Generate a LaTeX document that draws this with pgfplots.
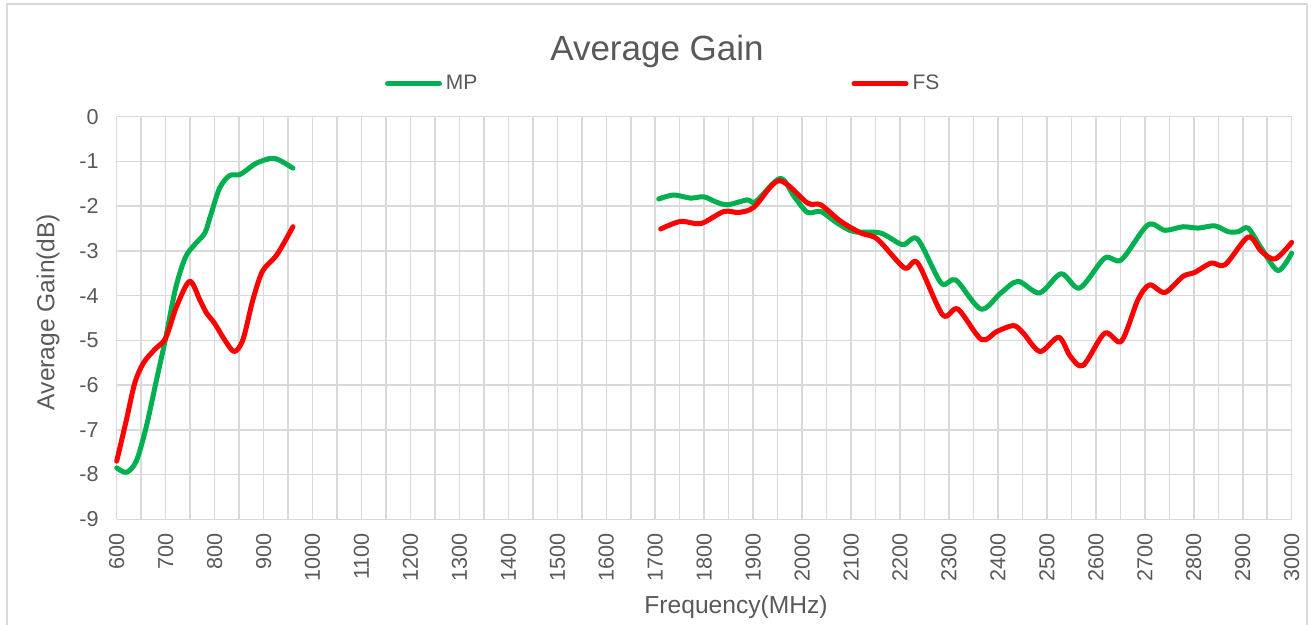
\documentclass[border=0pt]{standalone}
\usepackage{pgfplots}
\pgfplotsset{compat=1.18}
\usepackage{fontspec}
\setmainfont{Liberation Sans}
\definecolor{mpgreen}{HTML}{00B050}
\definecolor{fsred}{HTML}{FF0000}
\definecolor{txtgrey}{HTML}{595959}
\definecolor{gridgrey}{HTML}{D9D9D9}
\begin{document}
\begin{tikzpicture}
\useasboundingbox (0,0) rectangle (655.5pt,312.5pt);
\draw[gridgrey, line width=0.8pt] (3.5pt,-10pt) -- (3.5pt,310.5pt) -- (653.35pt,310.5pt) -- (653.35pt,-10pt);
\node[txtgrey, font=\fontsize{17.5}{20}\selectfont] at (328.5pt,287pt) {Average Gain};
\node[txtgrey, font=\fontsize{12.3}{14}\selectfont] at (368pt,9pt) {Frequency(MHz)};
\node[txtgrey, font=\fontsize{12.3}{14}\selectfont, rotate=90] at (24pt,156.5pt) {Average Gain(dB)};
\begin{axis}[
  at={(58.35pt,52.85pt)}, anchor=south west,
  width=587.5pt, height=201.3pt, scale only axis,
  xmin=600, xmax=3000, ymin=-9, ymax=0,
  xtick={600,700,...,3000}, ytick={-9,-8,...,0},
  minor xtick={650,750,...,2950},
  grid=both,
  major grid style={gridgrey, line width=0.75pt},
  minor grid style={gridgrey, line width=0.75pt},
  axis line style={draw=none},
  major tick length=0pt, minor tick length=0pt,
  /pgf/number format/assume math mode=true,
  /pgf/number format/1000 sep={},
  tick label style={txtgrey, font=\fontsize{10.8}{12}\selectfont},
  xticklabel style={rotate=90, anchor=east, xshift=-3.5pt},
  yticklabel style={xshift=-5.5pt},
  clip=false,
  legend style={at={(axis description cs:0.228,1.082)}, anchor=west, draw=none, fill=none,
    font=\fontsize{10.5}{12}\selectfont, text=txtgrey, inner sep=0pt,
    legend columns=2,
    /tikz/every even column/.append style={column sep=185pt}},
  legend image code/.code={\draw[#1, line cap=round] (0pt,0pt) -- (26pt,0pt);},
  every axis plot/.append style={line width=2.5pt, smooth, tension=0.5, line join=round, line cap=round},
]
\addplot[mpgreen] coordinates {
(600,-7.85) (620,-7.95) (640,-7.7) (660,-6.95) (680,-5.95) (700,-4.95) (720,-3.85)
(740,-3.15) (760,-2.85) (780,-2.6) (792,-2.2) (810,-1.6) (830,-1.32) (850,-1.3)
(862,-1.22) (885,-1.04) (915,-0.93) (932,-0.97) (960,-1.15)};
\addlegendentry{MP}
\addplot[fsred] coordinates {
(600,-7.7) (620,-6.77) (637,-5.95) (655,-5.5) (678,-5.2) (700,-4.95) (722,-4.25)
(749,-3.68) (770,-4.1) (783,-4.38) (800,-4.62) (820,-4.98) (840,-5.25) (858,-4.98)
(878,-4.1) (898,-3.45) (927,-3.09) (960,-2.46)};
\addlegendentry{FS}
\addplot[mpgreen, forget plot] coordinates {
(1707,-1.84) (1738,-1.75) (1772,-1.82) (1799,-1.79) (1823,-1.9) (1847,-1.97) (1888,-1.86)
(1905,-1.9) (1955,-1.38) (1984,-1.79) (2011,-2.14) (2038,-2.12) (2072,-2.38) (2106,-2.57)
(2160,-2.6) (2205,-2.86) (2236,-2.74) (2284,-3.72) (2314,-3.65) (2365,-4.3) (2406,-3.94)
(2441,-3.68) (2485,-3.94) (2529,-3.51) (2567,-3.83) (2618,-3.16) (2652,-3.2) (2706,-2.42)
(2741,-2.54) (2778,-2.46) (2809,-2.49) (2843,-2.44) (2870,-2.57) (2891,-2.57) (2911,-2.49)
(2938,-2.94) (2972,-3.44) (3000,-3.05)};
\addplot[fsred, forget plot] coordinates {
(1711,-2.51) (1752,-2.34) (1793,-2.39) (1840,-2.12) (1871,-2.14) (1902,-2.02) (1953,-1.43)
(2011,-1.93) (2038,-1.97) (2079,-2.34) (2120,-2.6) (2154,-2.74) (2209,-3.38) (2236,-3.27)
(2287,-4.43) (2318,-4.3) (2366,-4.98) (2398,-4.8) (2432,-4.67) (2452,-4.84) (2486,-5.25)
(2524,-4.93) (2548,-5.36) (2574,-5.56) (2618,-4.84) (2652,-5.02) (2686,-4.09) (2710,-3.76)
(2741,-3.93) (2778,-3.57) (2802,-3.48) (2836,-3.27) (2864,-3.31) (2911,-2.69) (2938,-3.01)
(2966,-3.18) (3000,-2.81)};
\end{axis}
\end{tikzpicture}
\end{document}
